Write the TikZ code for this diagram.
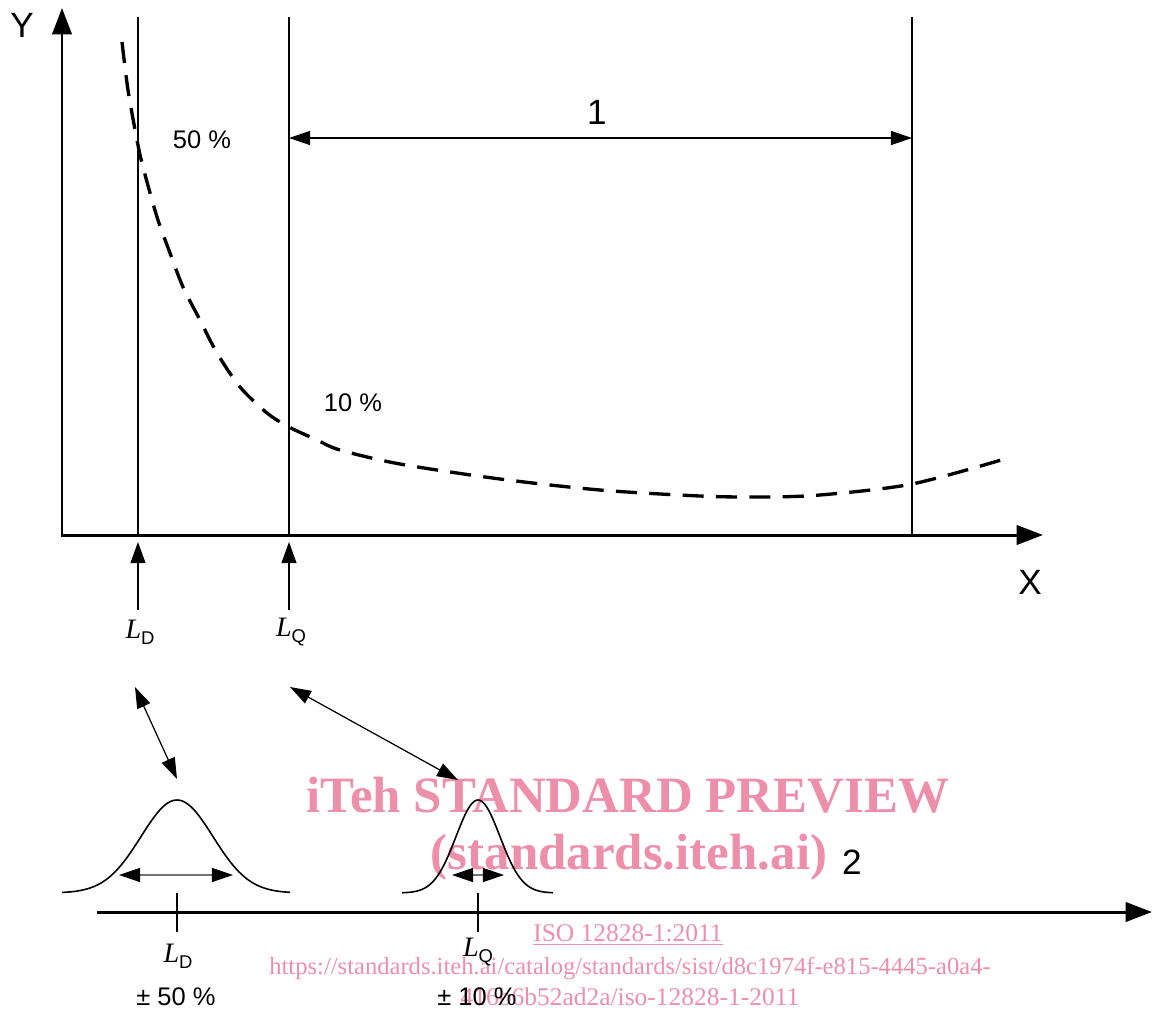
\documentclass[tikz,border=0pt]{standalone}
\usepackage{fontspec}
\setmainfont{Liberation Sans}
\newfontfamily\timesfam{Liberation Serif}
\usepackage{xcolor}
\usetikzlibrary{arrows.meta}
\definecolor{wmpink}{RGB}{238,143,170}
\newcommand{\Lsub}[1]{{\timesfam\itshape\fontsize{16}{18}\selectfont L}\raisebox{-0.45ex}{\fontsize{10.5}{10.5}\selectfont #1}}

\begin{document}
\begin{tikzpicture}[x=0.02cm,y=-0.02cm,
  axis/.style={line width=1.7pt},
  thinline/.style={line width=0.7pt},
  curve/.style={line width=1.9pt,dash pattern=on 12pt off 7pt},
  bell/.style={line width=0.9pt},
  axtip/.style={{Triangle[length=15pt,width=11pt]}-{Triangle[length=15pt,width=11pt]}},
  endtip/.style={-{Triangle[length=15pt,width=11pt]}},
  dimtip/.style={{Triangle[length=12pt,width=8pt]}-{Triangle[length=12pt,width=8pt]}},
  belltip/.style={{Triangle[length=12pt,width=8pt,color=black]}-{Triangle[length=12pt,width=8pt,color=black]}},
  uptip/.style={-{Triangle[length=12pt,width=8.5pt]}},
  lbl/.style={font=\fontsize{14.5}{17}\selectfont},
  big/.style={font=\fontsize{20}{24}\selectfont},
  wm/.style={text=wmpink,font=\timesfam\bfseries\fontsize{29}{34}\selectfont},
  wmsmall/.style={text=wmpink,font=\timesfam\fontsize{14.5}{17}\selectfont}]

  \useasboundingbox (0,0) rectangle (1154,1012);

  % watermark
  \node[wm] (wm1) at (628,795) {iTeh STANDARD PREVIEW};
  \node[wm] (wm2) at (629,857) {(standards.iteh.ai)};
  \node[wmsmall] (wm3) at (628,935) {\underline{ISO 12828-1:2011}};
  \node[wmsmall,font=\timesfam\fontsize{14}{17}\selectfont] (wm4) at (630,968) {https://standards.iteh.ai/catalog/standards/sist/d8c1974f-e815-4445-a0a4-};
  \node[wmsmall] (wm5) at (630,997) {416b6b52ad2a/iso-12828-1-2011};

  % axes
  \coordinate (ytop) at (62,8);
  \coordinate (O) at (62,535);
  \coordinate (xend) at (1043,535);
  \draw[axis,axtip] (ytop) -- (O) -- (xend);
  \node[big] (ylab) at (22,25) {Y};
  \node[big] (xlab) at (1030,582) {X};

  % vertical guides
  \foreach \gx/\gn in {138/ld,289/lq,912/lr}{
    \coordinate (\gn-top) at (\gx,17);
    \coordinate (\gn-foot) at (\gx,535);
    \draw[thinline] (\gn-top) -- (\gn-foot);
  }
  \coordinate (d1) at (289,138);
  \coordinate (d2) at (912,138);
  \draw[thinline,dimtip] (d1) -- (d2);
  \node[big] (one) at (597,112) {1};

  % curve
  \draw[curve] plot[smooth] coordinates {(122,42) (128,90) (137,140) (143,167)
    (157,217) (170,253) (183,287) (200,320) (217,353) (240,387) (267,413)
    (289,427) (317,440) (340,450) (400,464) (500,479) (600,490) (700,496)
    (760,497) (820,495) (912,484) (1008,458)};
  \node[lbl] (p50) at (202,140) {50 \%};
  \node[lbl] (p10) at (353,403) {10 \%};

  % limit markers
  \node[lbl] (ld) at (140,632) {\Lsub{D}};
  \node[lbl] (lq) at (291,632) {\Lsub{Q}};
  \coordinate (ld-a) at (138,610);
  \coordinate (ld-b) at (138,542);
  \coordinate (lq-a) at (289,610);
  \coordinate (lq-b) at (289,542);
  \draw[thinline,uptip] (ld-a) -- (ld-b);
  \draw[thinline,uptip] (lq-a) -- (lq-b);

  % links to distributions
  \coordinate (ln1) at (135,687);
  \coordinate (ln2) at (177,779);
  \coordinate (ln3) at (290,687);
  \coordinate (ln4) at (458,780);
  \draw[thinline,dimtip] (ln1) -- (ln2);
  \draw[thinline,dimtip] (ln3) -- (ln4);

  % distributions
  \draw[bell] plot[domain=62:290,samples=90] (\x,{893-93*exp(-((\x-177)^2)/(2*36^2))});
  \draw[bell] plot[domain=402:553,samples=90] (\x,{893-93*exp(-((\x-478)^2)/(2*22^2))});
  \coordinate (g1a) at (119,875);
  \coordinate (g1b) at (233,875);
  \coordinate (g2a) at (452,875);
  \coordinate (g2b) at (504,875);
  \draw[thinline,black!55,belltip] (g1a) -- (g1b);
  \draw[thinline,black!55,belltip] (g2a) -- (g2b);

  % lower axis
  \coordinate (b0) at (97,912);
  \coordinate (b1) at (1152,912);
  \draw[axis,endtip] (b0) -- (b1);
  \node[big] (two) at (852,862) {2};
  \foreach \tx/\tn in {177/td,478/tq}{
    \coordinate (\tn-a) at (\tx,893);
    \coordinate (\tn-b) at (\tx,932);
    \draw[thinline] (\tn-a) -- (\tn-b);
  }
  \node[lbl] (ld2) at (178,956) {\Lsub{D}};
  \node[lbl] (lq2) at (478,952) {\Lsub{Q}};
  \node[lbl] (pm50) at (176,997) {± 50 \%};
  \node[lbl] (pm10) at (477,997) {± 10 \%};
\end{tikzpicture}
\end{document}
